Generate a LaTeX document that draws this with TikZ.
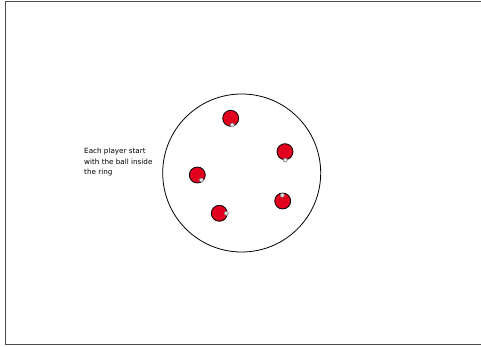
\documentclass[tikz,border=0pt]{standalone}
\usepackage{fontspec}
\setmainfont{DejaVu Sans}
\definecolor{playerred}{RGB}{225,0,30}
\begin{document}
\begin{tikzpicture}[x=1pt,y=-1pt,
  player/.style={circle,draw=black,line width=0.8pt,fill=playerred,minimum size=16pt,inner sep=0pt},
  ballmark/.style={circle,draw=gray,line width=0.6pt,fill=white!80!gray,minimum size=4pt,inner sep=0pt},
  ringst/.style={draw=black,line width=0.8pt}]
\useasboundingbox (0,0) rectangle (481,347);
\draw[line width=1pt,black!70] (481,1.5) -- (5.5,1.5) -- (5.5,344) -- (481,344);
\node[ringst,circle,minimum size=158pt,inner sep=0pt] (ring) at (241.7,173) {};
\node[player] (p1) at (230.7,118.3) {};
\node[player] (p2) at (285,151.7) {};
\node[player] (p3) at (197.3,175) {};
\node[player] (p4) at (219.3,213.3) {};
\node[player] (p5) at (282.7,201) {};
\node[ballmark] (b1) at (232.3,125) {};
\node[ballmark] (b2) at (285.3,160) {};
\node[ballmark] (b3) at (201.3,180) {};
\node[ballmark] (b4) at (226.3,213.3) {};
\node[ballmark] (b5) at (282.3,195.3) {};
\node[anchor=north west,align=left,font=\fontsize{7.2}{10.5}\selectfont,inner sep=0pt] (txt) at (84,148) {Each player start\\with the ball inside\\the ring};
\end{tikzpicture}
\end{document}
